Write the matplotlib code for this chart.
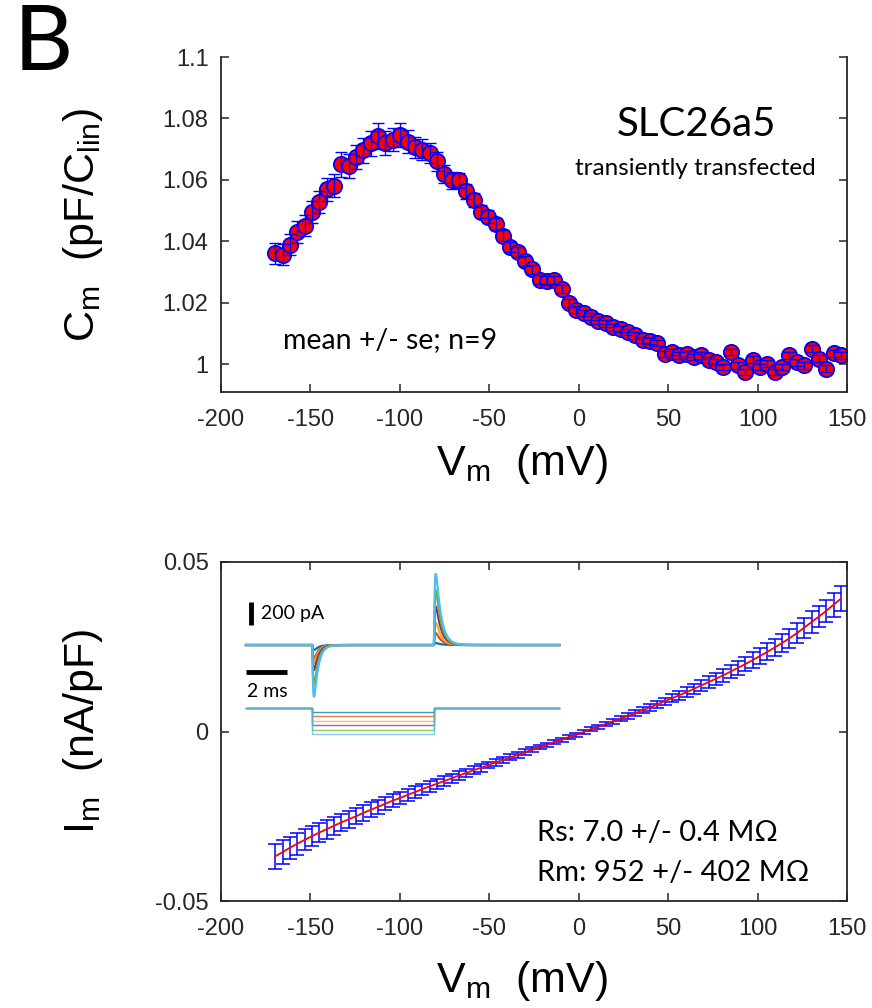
import numpy as np
import matplotlib
matplotlib.use("Agg")
import matplotlib.pyplot as plt

plt.rcParams['font.family'] = 'Liberation Sans'
plt.rcParams['mathtext.fontset'] = 'custom'
plt.rcParams['mathtext.rm'] = 'Liberation Sans'
plt.rcParams['axes.unicode_minus'] = False
plt.rcParams['axes.edgecolor'] = '#262626'
plt.rcParams['xtick.color'] = '#262626'
plt.rcParams['ytick.color'] = '#262626'

W, H = 872, 1008

# voltage steps (mV), shared by both panels
v_steps = [-169.7, -165.6, -161.5, -157.4, -153.3, -149.2, -145.0, -140.9, -136.8, -132.7,
           -128.6, -124.5, -120.4, -116.3, -112.2, -108.1, -104.0, -99.8, -95.7, -91.6,
           -87.5, -83.4, -79.3, -75.2, -71.1, -67.0, -62.9, -58.8, -54.7, -50.6,
           -46.5, -42.3, -38.2, -34.1, -30.0, -25.9, -21.8, -17.7, -13.6, -9.5,
           -5.4, -1.3, 2.8, 6.9, 11.0, 15.1, 19.3, 23.4, 27.5, 31.6,
           35.7, 39.8, 43.9, 48.0, 52.1, 56.2, 60.3, 64.4, 68.5, 72.7,
           76.8, 80.9, 85.0, 89.1, 93.2, 97.3, 101.4, 105.5, 109.6, 113.7,
           117.8, 121.9, 126.0, 130.2, 134.3, 138.4, 142.5, 146.6]

# normalised capacitance, mean and se
cm_mean = [1.0362, 1.0357, 1.0389, 1.0430, 1.0451, 1.0497, 1.0527, 1.0569, 1.0581, 1.0651,
           1.0645, 1.0674, 1.0696, 1.0719, 1.0742, 1.0720, 1.0731, 1.0746, 1.0725, 1.0706,
           1.0698, 1.0687, 1.0661, 1.0618, 1.0599, 1.0599, 1.0563, 1.0534, 1.0497, 1.0481,
           1.0456, 1.0418, 1.0381, 1.0365, 1.0336, 1.0309, 1.0276, 1.0272, 1.0276, 1.0244,
           1.0199, 1.0178, 1.0167, 1.0155, 1.0142, 1.0133, 1.0120, 1.0115, 1.0104, 1.0094,
           1.0078, 1.0075, 1.0069, 1.0034, 1.0040, 1.0029, 1.0034, 1.0024, 1.0029, 1.0013,
           1.0007, 0.9991, 1.0040, 0.9997, 0.9975, 1.0015, 0.9991, 1.0002, 0.9975, 0.9991,
           1.0029, 1.0007, 0.9997, 1.0051, 1.0018, 0.9986, 1.0036, 1.0029]
cm_se = [0.0034, 0.0034, 0.0034, 0.0035, 0.0035, 0.0036, 0.0036, 0.0037, 0.0038, 0.0040,
         0.0038, 0.0039, 0.0040, 0.0040, 0.0042, 0.0038, 0.0038, 0.0040, 0.0036, 0.0035,
         0.0034, 0.0033, 0.0031, 0.0029, 0.0027, 0.0025, 0.0024, 0.0022, 0.0021, 0.0020,
         0.0019, 0.0018, 0.0017, 0.0016, 0.0015, 0.0015, 0.0014, 0.0014, 0.0013, 0.0013,
         0.0012, 0.0012, 0.0011, 0.0011, 0.0011, 0.0010, 0.0010, 0.0010, 0.0010, 0.0010,
         0.0010, 0.0010, 0.0010, 0.0010, 0.0010, 0.0010, 0.0010, 0.0010, 0.0010, 0.0010,
         0.0010, 0.0011, 0.0011, 0.0011, 0.0011, 0.0011, 0.0011, 0.0011, 0.0011, 0.0011,
         0.0011, 0.0012, 0.0012, 0.0012, 0.0012, 0.0012, 0.0012, 0.0012]

# current density, mean and se
im_mean = [-0.0368, -0.0356, -0.0343, -0.0331, -0.0320, -0.0309, -0.0298, -0.0288, -0.0278, -0.0268,
           -0.0259, -0.0250, -0.0240, -0.0231, -0.0222, -0.0213, -0.0204, -0.0196, -0.0187, -0.0179,
           -0.0170, -0.0162, -0.0154, -0.0146, -0.0138, -0.0130, -0.0122, -0.0114, -0.0107, -0.0099,
           -0.0091, -0.0084, -0.0076, -0.0069, -0.0061, -0.0054, -0.0046, -0.0039, -0.0031, -0.0024,
           -0.0016, -0.0009, -0.0001, 0.0007, 0.0014, 0.0022, 0.0030, 0.0038, 0.0046, 0.0054,
           0.0063, 0.0071, 0.0080, 0.0089, 0.0098, 0.0107, 0.0116, 0.0126, 0.0136, 0.0146,
           0.0156, 0.0166, 0.0177, 0.0188, 0.0199, 0.0211, 0.0223, 0.0235, 0.0248, 0.0261,
           0.0275, 0.0290, 0.0306, 0.0323, 0.0339, 0.0356, 0.0374, 0.0392]
im_se = [0.0037, 0.0035, 0.0033, 0.0032, 0.0031, 0.0030, 0.0029, 0.0028, 0.0027, 0.0026,
         0.0025, 0.0024, 0.0023, 0.0022, 0.0021, 0.0020, 0.0020, 0.0019, 0.0018, 0.0017,
         0.0016, 0.0016, 0.0015, 0.0014, 0.0014, 0.0013, 0.0012, 0.0012, 0.0011, 0.0010,
         0.0010, 0.0009, 0.0009, 0.0008, 0.0008, 0.0007, 0.0007, 0.0006, 0.0006, 0.0006,
         0.0006, 0.0006, 0.0006, 0.0006, 0.0006, 0.0007, 0.0007, 0.0008, 0.0008, 0.0009,
         0.0009, 0.0010, 0.0011, 0.0011, 0.0012, 0.0013, 0.0014, 0.0015, 0.0016, 0.0017,
         0.0018, 0.0019, 0.0020, 0.0021, 0.0022, 0.0023, 0.0024, 0.0025, 0.0026, 0.0027,
         0.0028, 0.0029, 0.0030, 0.0031, 0.0032, 0.0033, 0.0035, 0.0036]

# inset: capacitive transients (pA) and voltage protocol (mV)
trace_colors = ['#0072BD', '#D95319', '#EDB120', '#7E2F8E', '#77AC30', '#4DBEEE']
on_peak = [-43, -112, -155, -215, -335, -444]
off_peak = [17, 103, 191, 329, 466, 610]
step_mv = [-20, -40, -60, -80, -100, -120]
t_on, t_off, t_end = 3.26, 9.24, 15.4

x_ticks = [-200, -150, -100, -50, 0, 50, 100, 150]
cm_ticks = [1.0, 1.02, 1.04, 1.06, 1.08, 1.1]
cm_ticklabels = ['1', '1.02', '1.04', '1.06', '1.08', '1.1']
im_ticks = [-0.05, 0, 0.05]
im_ticklabels = ['-0.05', '0', '0.05']


def px_rect(left, top, right, bottom):
    return [left / W, 1 - bottom / H, (right - left) / W, (bottom - top) / H]


def style_axes(ax):
    for s in ax.spines.values():
        s.set_linewidth(1.3)
    ax.tick_params(direction='in', length=6, width=1.1, labelsize=17,
                   top=True, right=True)
    ax.tick_params(axis='x', pad=12)
    ax.tick_params(axis='y', pad=9)


def transient(t, t0, amp, tau, rise=0.04):
    dt = np.clip(t - t0, 0, None)
    k = np.exp(-dt / tau) - np.exp(-dt / rise)
    tp = np.log(tau / rise) * tau * rise / (tau - rise)
    kmax = np.exp(-tp / tau) - np.exp(-tp / rise)
    return amp * k / kmax


fig = plt.figure(figsize=(W / 100, H / 100), dpi=100)

# ---------------- top panel: capacitance
ax1 = fig.add_axes(px_rect(221, 57, 847, 392))
ax1.plot(v_steps, cm_mean, 'o', ms=11, mfc='red', mec='blue', mew=1.3, zorder=2)
ax1.errorbar(v_steps, cm_mean, yerr=cm_se, fmt='none', ecolor='blue',
             elinewidth=1.0, capsize=4.5, capthick=1.0, zorder=3)
ax1.set_xlim(-200, 150)
ax1.set_ylim(0.991, 1.1)
ax1.set_xticks(x_ticks)
ax1.set_yticks(cm_ticks)
ax1.set_yticklabels(cm_ticklabels)
style_axes(ax1)
ax1.tick_params(top=False)
ax1.spines['top'].set_visible(False)
ax1.set_xlabel(r'$\mathregular{V_m}$  (mV)', fontsize=31)
ax1.xaxis.set_label_coords(0.48, -0.15)
ax1.set_ylabel(r'$\mathregular{C_m}$  (pF/$\mathregular{C_{lin}}$)', fontsize=31)
ax1.yaxis.set_label_coords(-0.185, 0.5)
ax1.text(0.76, 0.8, 'SLC26a5', transform=ax1.transAxes, fontsize=29,
         family='Lato', ha='center', va='center')
ax1.text(0.757, 0.666, 'transiently transfected', transform=ax1.transAxes,
         fontsize=17.5, family='Lato', ha='center', va='center')
ax1.text(0.27, 0.155, 'mean +/- se; n=9', transform=ax1.transAxes,
         fontsize=20.5, family='Lato', ha='center', va='center')

# ---------------- bottom panel: current
ax2 = fig.add_axes(px_rect(221, 562, 847, 901))
ax2.errorbar(v_steps, im_mean, yerr=im_se, fmt='none', ecolor='blue',
             elinewidth=1.1, capsize=5, capthick=1.1, zorder=2)
ax2.plot(v_steps, im_mean, '-', color='red', lw=1.3, zorder=3)
ax2.set_xlim(-200, 150)
ax2.set_ylim(-0.05, 0.05)
ax2.set_xticks(x_ticks)
ax2.set_yticks(im_ticks)
ax2.set_yticklabels(im_ticklabels)
style_axes(ax2)
ax2.set_xlabel(r'$\mathregular{V_m}$  (mV)', fontsize=31)
ax2.xaxis.set_label_coords(0.48, -0.17)
ax2.set_ylabel(r'$\mathregular{I_m}$  (nA/pF)', fontsize=31)
ax2.yaxis.set_label_coords(-0.185, 0.5)
ax2.text(0.505, 0.2, 'Rs: 7.0 +/- 0.4 M\u03A9', transform=ax2.transAxes,
         fontsize=21, family='Lato', ha='left', va='center')
ax2.text(0.505, 0.083, 'Rm: 952 +/- 402 M\u03A9', transform=ax2.transAxes,
         fontsize=21, family='Lato', ha='left', va='center')

# ---------------- inset: current traces
axi = fig.add_axes(px_rect(240, 565, 565, 702))
axi.set_xlim(-0.295, 15.68)
axi.set_ylim(-489, 687)
axi.axis('off')
t = np.linspace(0, t_end, 1600)
for c, a_on, a_off in zip(trace_colors, on_peak, off_peak):
    y = transient(t, t_on, a_on, 0.2) + transient(t, t_off, a_off, 0.25)
    axi.plot(t, y, color=c, lw=1.6)
# scale bars
axi.plot([0.23, 0.23], [172, 372], color='black', lw=3.5, solid_capstyle='butt')
axi.plot([0, 2], [-234, -234], color='black', lw=3.5, solid_capstyle='butt')
axi.text(0.75, 272, '200 pA', fontsize=14, family='Lato', ha='left', va='center')
axi.text(0.05, -400, '2 ms', fontsize=14, family='Lato', ha='left', va='center')

# ---------------- inset: voltage protocol
axv = fig.add_axes(px_rect(240, 700, 565, 740))
axv.set_xlim(-0.295, 15.68)
axv.set_ylim(-147, 35)
axv.axis('off')
for c, v in zip(trace_colors, step_mv):
    axv.plot([0, t_on, t_on, t_off, t_off, t_end], [0, 0, v, v, 0, 0],
             color=c, lw=1.0, alpha=0.75)

# panel letter
fig.text(14 / W, 1 - 44 / H, 'B', fontsize=66, family='Lato', ha='left', va='center')

fig.savefig('out.png', dpi=100)
